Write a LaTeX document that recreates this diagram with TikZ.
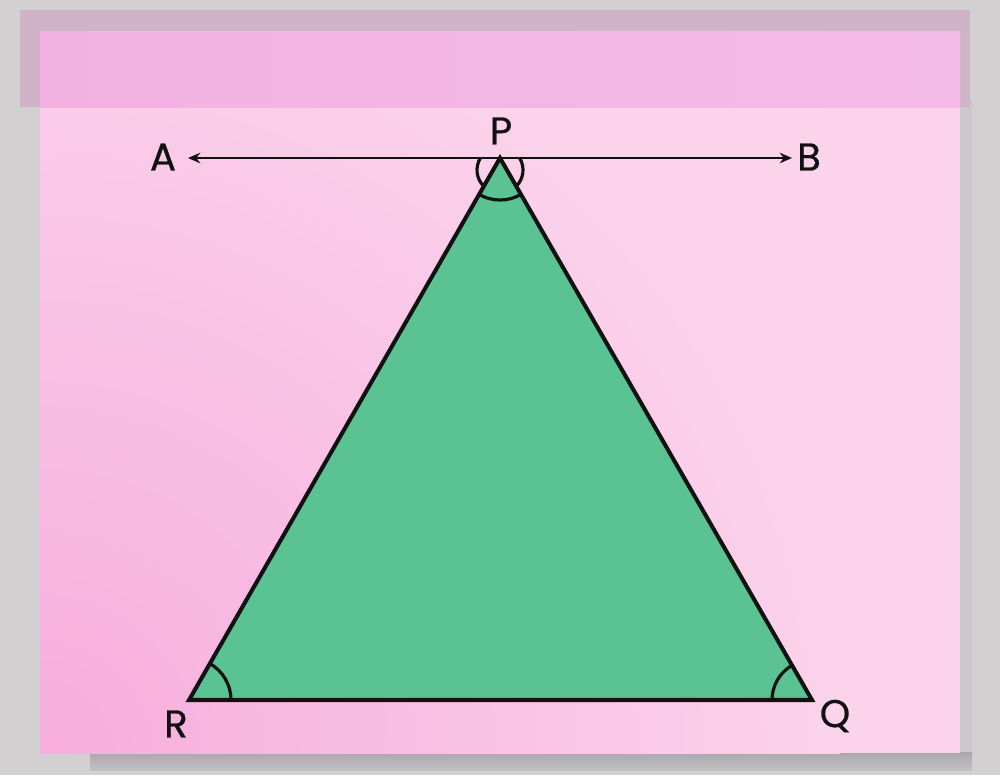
\documentclass[tikz,border=0pt]{standalone}
\usepackage{fontspec}
\setmainfont{Poppins}
\newfontfamily\lblfont[FakeBold=0.7]{Poppins}
\usetikzlibrary{arrows.meta}
\definecolor{bggray}{HTML}{D3D0D2}
\definecolor{shadowgray}{HTML}{AAA7AE}
\definecolor{cardA}{HTML}{F7ADDD}
\definecolor{cardB}{HTML}{FBD3EB}
\definecolor{bandouter}{HTML}{CEB3C9}
\definecolor{bandA}{HTML}{F3B1E2}
\definecolor{bandB}{HTML}{F5BBE8}
\definecolor{trifill}{HTML}{5AC293}
\definecolor{ink}{HTML}{111111}
\tikzset{
  lbl/.style={font=\lblfont\fontsize{22}{26}\selectfont, text=ink, inner sep=0pt},
  edge/.style={draw=ink, line width=2.3pt, line join=miter},
  anglearc/.style={draw=ink, line width=1.8pt},
  arrowline/.style={draw=ink, line width=1.2pt, {Stealth[length=7pt,width=6pt]}-{Stealth[length=7pt,width=6pt]}}
}
\begin{document}
\begin{tikzpicture}[x=0.02cm,y=0.02cm]
\useasboundingbox (0,0) rectangle (1000,-775);
% background
\fill[bggray] (0,0) rectangle (1000,-775);
% card shadow
\shade[top color=shadowgray, bottom color=bggray!60!shadowgray] (90,-752) rectangle (972,-770);
\fill[bggray!80!shadowgray] (960,-100) rectangle (972,-752);
% card
\fill[cardB] (40,-31) rectangle (960,-753);
\begin{scope}
  \clip (40,-31) rectangle (960,-753);
  \shade[inner color=cardA, outer color=cardB] (40,-753) circle (800);
\end{scope}
% top band
\fill[bandouter] (20,-10) rectangle (970,-107);
\shade[left color=bandA, right color=bandB] (40,-31) rectangle (960,-107);
% vertices
\coordinate (P) at (500,-158);
\coordinate (R) at (189,-700);
\coordinate (Q) at (812,-700);
\coordinate (Pc) at (500,-170);
\coordinate (Aend) at (188,-158);
\coordinate (Bend) at (792,-158);
% triangle
\fill[trifill] (P) -- (Q) -- (R) -- cycle;
\draw[edge] (P) -- (Q) -- (R) -- cycle;
% angle arcs
\draw[anglearc] ([shift={(240.2:42)}]P) arc[start angle=240.2, end angle=299.9, radius=42];
\draw[anglearc] ([shift={(148.5:23)}]Pc) arc[start angle=148.5, end angle=225, radius=23];
\draw[anglearc] ([shift={(31.5:23)}]Pc) arc[start angle=31.5, end angle=-45, radius=23];
\draw[anglearc] ([shift={(0:42)}]R) arc[start angle=0, end angle=60.2, radius=42];
\draw[anglearc] ([shift={(180:40)}]Q) arc[start angle=180, end angle=119.9, radius=40];
% line AB
\draw[arrowline] (Aend) -- (Bend);
% labels
\node[lbl] (lA) at (163,-157) {A};
\node[lbl] (lB) at (809,-157) {B};
\node[lbl] (lP) at (501,-131) {P};
\node[lbl] (lR) at (176,-724) {R};
\node[lbl] (lQ) at (835,-716) {Q};
\end{tikzpicture}
\end{document}
